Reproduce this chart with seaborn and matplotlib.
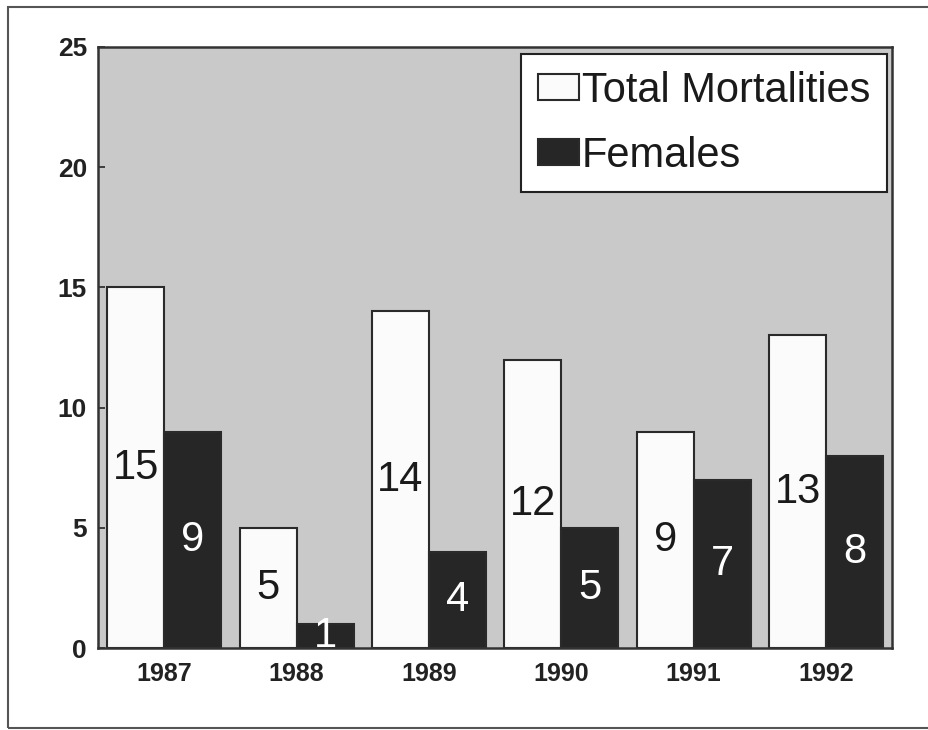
import pandas as pd
import numpy as np
import matplotlib.pyplot as plt
import seaborn as sns
from matplotlib.patches import Rectangle

years = ['1987', '1988', '1989', '1990', '1991', '1992']
total_mortalities = [15, 5, 14, 12, 9, 13]
females = [9, 1, 4, 5, 7, 8]
series_names = ['Total Mortalities', 'Females']

df = pd.DataFrame({
    'year': years * 2,
    'count': total_mortalities + females,
    'series': [series_names[0]] * len(years) + [series_names[1]] * len(years),
})

sns.set_style('white')
plt.rcParams['font.family'] = ['Liberation Sans', 'DejaVu Sans']

fig = plt.figure(figsize=(9.29, 7.3), dpi=100)
ax = fig.add_axes([0.1055, 0.112, 0.855, 0.824])
ax.set_facecolor('#c9c9c9')

sns.barplot(df, x='year', y='count', hue='series', ax=ax,
            palette=['#fbfbfb', '#262626'], edgecolor='#2a2a2a',
            linewidth=1.5, width=0.86, saturation=1)

ax.set_ylim(0, 25)
ax.set_yticks(range(0, 26, 5))
ax.set_xlabel('')
ax.set_ylabel('')
ax.tick_params(axis='y', labelsize=19, direction='in', length=5, width=1.2, left=True, pad=8)
ax.tick_params(axis='x', labelsize=18, length=0, pad=10)
for lbl in ax.get_xticklabels() + ax.get_yticklabels():
    lbl.set_fontweight('bold')
    lbl.set_color('#222222')
for s in ax.spines.values():
    s.set_color('#333333')
    s.set_linewidth(1.8)

ax.bar_label(ax.containers[0], label_type='center', fontsize=30, color='#1a1a1a')
ax.bar_label(ax.containers[1], label_type='center', fontsize=30, color='white')

leg = ax.legend(loc='upper right', bbox_to_anchor=(0.998, 0.995), fontsize=30,
                frameon=True, fancybox=False, edgecolor='#222222',
                handlelength=1.0, handleheight=0.6, handletextpad=0.05,
                borderpad=0.4, labelspacing=0.6, borderaxespad=0.1)
leg.get_frame().set_linewidth(1.5)
leg.get_frame().set_facecolor('white')
leg.get_frame().set_alpha(1)
for t in leg.get_texts():
    t.set_color('#1a1a1a')

# outer frame of the scanned page
fig.patches.append(Rectangle((0.009, 0.003), 0.995, 0.987, transform=fig.transFigure,
                             fill=False, edgecolor='#555555', linewidth=1.5))

fig.savefig('out.png', dpi=100)
